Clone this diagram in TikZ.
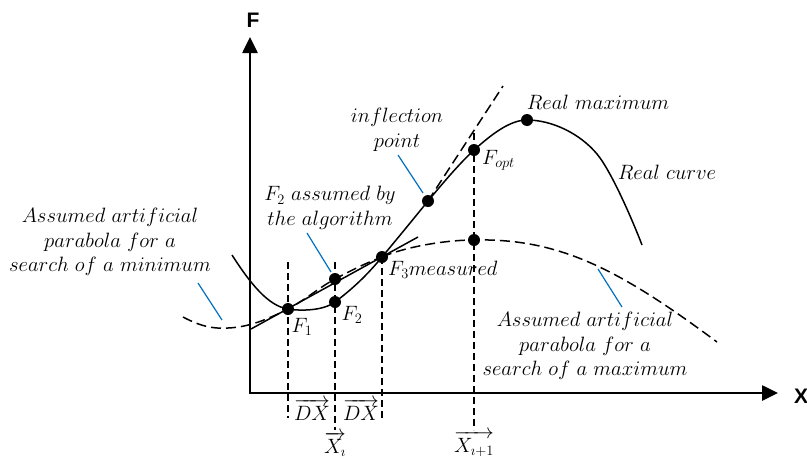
\documentclass[tikz,border=0pt]{standalone}
\usepackage{fontspec}
\usepackage{amsmath}
\setsansfont{Liberation Sans}
\usetikzlibrary{arrows.meta}
\definecolor{leader}{RGB}{0,112,192}
\begin{document}
\begin{tikzpicture}[x=1pt,y=-1pt,
  curve/.style={line width=1.5pt},
  dsh/.style={line width=1.5pt, dash pattern=on 10pt off 5pt},
  vdsh/.style={line width=1.3pt, dash pattern=on 7pt off 4pt},
  dot/.style={circle, fill=black, inner sep=0pt, minimum size=12pt},
  lbl/.style={font=\fontsize{20.5}{24.5}\selectfont, inner sep=0pt, align=center},
  lead/.style={draw=leader, line width=1.2pt},
  axis/.style={line width=2.6pt, {Triangle[length=16pt,width=15pt]}-{Triangle[length=16pt,width=15pt]}},
  axlbl/.style={font=\sffamily\bfseries\fontsize{21}{21}\selectfont, inner sep=0pt}]

\useasboundingbox (0,0) rectangle (807,461);

% axes
\coordinate (Ytop) at (250,37);
\coordinate (Xend) at (778,393);
\draw[axis] (Ytop) |- (Xend);
\node[axlbl] (Flab) at (253,20) {F};
\node[axlbl] (Xlab) at (801,396) {X};

% points
\node[dot] (F1) at (288,309) {};
\node[dot] (F2) at (335,302) {};
\node[dot] (F2a) at (335,279) {};
\node[dot] (F3) at (382,257) {};
\node[dot] (Inf) at (428,201) {};
\node[dot] (Fopt) at (474,150) {};
\node[dot] (Rmax) at (527,120) {};
\node[dot] (Pmax) at (474,240) {};

% vertical dashed guides
\coordinate (v1t) at (288,262); \coordinate (v1b) at (288,418);
\coordinate (v2t) at (335,262); \coordinate (v2b) at (335,430);
\coordinate (v3b) at (382,418);
\coordinate (v4t) at (474,133); \coordinate (v4b) at (474,430);
\draw[vdsh] (v1t) -- (v1b);
\draw[vdsh] (v2t) -- (v2b);
\draw[vdsh] (F3.center) -- (v3b);
\draw[vdsh] (v4t) -- (v4b);

% real curve
\coordinate (R0) at (232,255);
\coordinate (R1) at (597,154);
\coordinate (R2) at (642,245);
\draw[curve] (R0) .. controls (250,283) and (268,306) .. (F1.center)
  .. controls (300,311) and (323,311) .. (F2.center)
  .. controls (351,290) and (366,276.5) .. (F3.center)
  .. controls (397,239) and (413,219.5) .. (Inf.center)
  .. controls (443,183) and (459,164) .. (Fopt.center)
  .. controls (492,134) and (510,120) .. (Rmax.center)
  .. controls (552,120) and (580,133.6) .. (R1)
  .. controls (612,172) and (634,224) .. (R2);

% secant line
\coordinate (S1) at (251,329);
\coordinate (S2) at (418,237);
\draw[curve] (S1) -- (S2);

% inflection tangent
\coordinate (T2) at (503,86);
\draw[dsh] (Inf.center) -- (T2);

% parabola for minimum
\coordinate (M0) at (183,317);
\coordinate (M1) at (228,328);
\draw[dsh] (M0) .. controls (200,326) and (212,329) .. (M1)
  .. controls (250,327) and (268,319) .. (F1.center)
  .. controls (305,300) and (320,287) .. (F2a.center)
  .. controls (350,271) and (366,263) .. (F3.center);

% parabola for maximum
\coordinate (P2) at (717,342);
\draw[dsh] (F3.center) .. controls (405,247) and (445,240) .. (Pmax.center)
  .. controls (560,238) and (620,270) .. (P2);

% leaders
\coordinate (a1) at (198,283); \coordinate (a2) at (222,320);
\coordinate (b1) at (307,233); \coordinate (b2) at (331,272);
\coordinate (c1) at (398,155); \coordinate (c2) at (423,193);
\coordinate (d1) at (598,269); \coordinate (d2) at (622,307);
\draw[lead] (a1) -- (a2);
\draw[lead] (b1) -- (b2);
\draw[lead] (c1) -- (c2);
\draw[lead] (d1) -- (d2);

% labels
\node[lbl] (Lmin) at (110,242) {$Assumed\ artificial$\\$parabola\ for\ a$\\$search\ of\ a\ minimum$};
\node[lbl] (Lf2a) at (330,208) {$F_2\ assumed\ by$\\$the\ algorithm$};
\node[lbl] (Linf) at (397,130) {$inflection$\\$point$};
\node[lbl] (Lrmax) at (598,102) {$Real\ maximum$};
\node[lbl] (Lrc) at (667,172) {$Real\ curve$};
\node[lbl] (Lpmax) at (585,346) {$Assumed\ artificial$\\$parabola\ for\ a$\\$search\ of\ a\ maximum$};
\node[lbl, anchor=west] (LF3) at (388,270) {$F_3 measured$};
\node[lbl] (LF1) at (302,327) {$F_1$};
\node[lbl] (LF2) at (352,315) {$F_2$};
\node[lbl, anchor=west] (LFopt) at (482,160) {$F_{opt}$};
\node[lbl] (DX1) at (312,410) {$\overrightarrow{DX}$};
\node[lbl] (DX2) at (361,410) {$\overrightarrow{DX}$};
\node[lbl] (Xi) at (335,444) {$\overrightarrow{X_\imath}$};
\node[lbl] (Xi1) at (474,444) {$\overrightarrow{X_{\imath+1}}$};
\end{tikzpicture}
\end{document}
